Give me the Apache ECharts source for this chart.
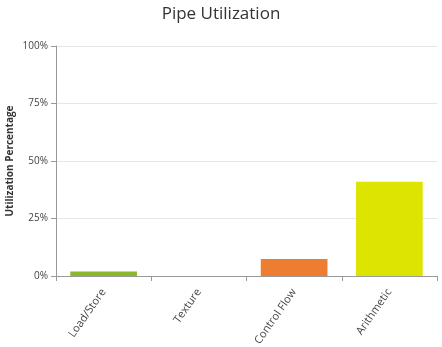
<!DOCTYPE html>
<html><head><meta charset="utf-8">
<script src="https://cdn.jsdelivr.net/npm/echarts@6/dist/echarts.min.js"></script>
<style>html,body{margin:0;padding:0;background:#fff}#c{width:442px;height:347px}</style>
</head><body><div id="c"></div>
<script>
const categories = ['Load/Store', 'Texture', 'Control Flow', 'Arithmetic'];
const values = [2, 0, 7.4, 41];
const barColors = ['#8cb82b', '#8cb82b', '#ed7d31', '#dce400'];
const yTicks = [0, 25, 50, 75, 100];

const chart = echarts.init(document.getElementById('c'));
chart.setOption({
  animation: false,
  textStyle: { fontFamily: 'Open Sans, sans-serif' },
  title: { text: 'Pipe Utilization', left: 'center', top: 1,
    textStyle: { fontSize: 17, fontWeight: 'normal', color: '#333', fontFamily: 'Open Sans, sans-serif' } },
  grid: { left: 56, right: 5, top: 46, bottom: 71, containLabel: false, outerBoundsMode: 'none' },
  xAxis: {
    type: 'category', data: categories,
    axisLine: { lineStyle: { color: '#999' } },
    axisTick: { show: true, alignWithLabel: false, length: 5, lineStyle: { color: '#999' } },
    axisLabel: { rotate: 55, fontSize: 11, color: '#444', margin: 14 }
  },
  yAxis: {
    type: 'value', min: 0, max: 100, interval: 25,
    name: 'Utilization Percentage', nameLocation: 'middle', nameGap: 41, nameMoveOverlap: false,
    nameTextStyle: { fontSize: 10, fontWeight: 'bold', color: '#333' },
    axisLine: { show: true, lineStyle: { color: '#999' } },
    axisTick: { show: true, length: 5, lineStyle: { color: '#999' } },
    axisLabel: { fontSize: 10, color: '#444', formatter: v => yTicks.includes(v) ? v + '%' : '' },
    splitLine: { lineStyle: { color: '#e6e6e6' } }
  },
  series: [{
    type: 'bar', barWidth: '70%',
    data: values.map((v, i) => ({ value: v, itemStyle: { color: barColors[i] } }))
  }]
});
</script></body></html>
